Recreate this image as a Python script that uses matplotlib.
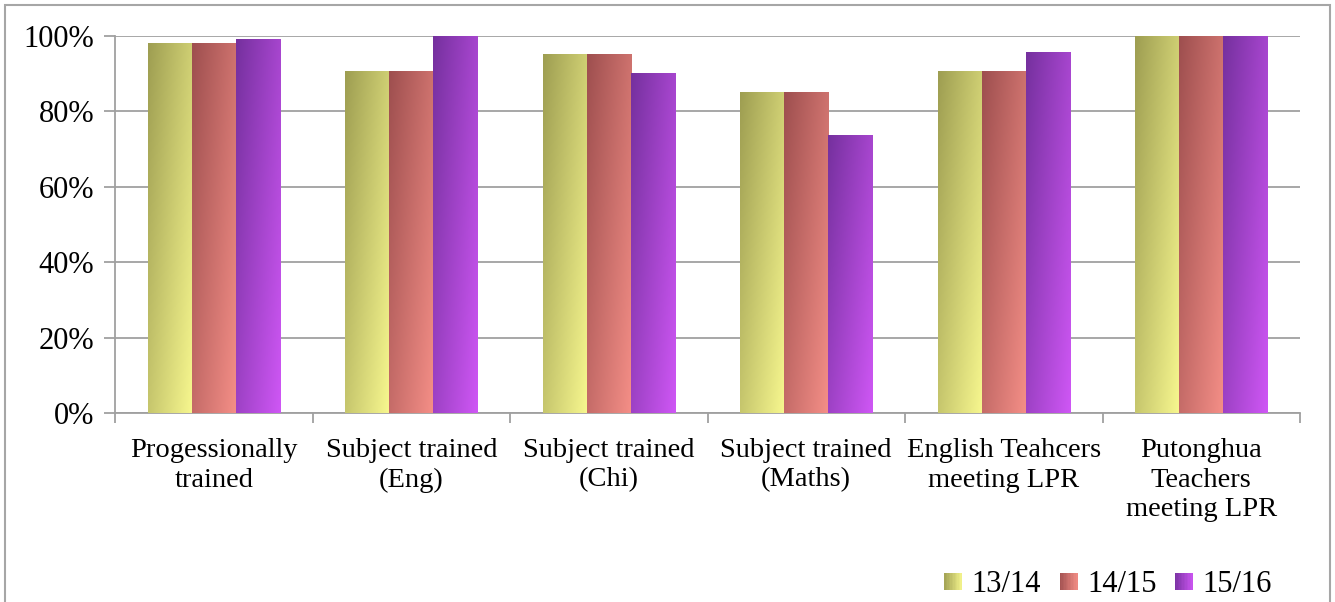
import numpy as np
import matplotlib
matplotlib.use("Agg")
import matplotlib.pyplot as plt
from matplotlib.patches import Rectangle
from matplotlib.legend_handler import HandlerBase
from matplotlib.colors import LinearSegmentedColormap

categories = ["Progessionally\ntrained", "Subject trained\n(Eng)", "Subject trained\n(Chi)",
              "Subject trained\n(Maths)", "English Teahcers\nmeeting LPR",
              "Putonghua\nTeachers\nmeeting LPR"]
series_names = ["13/14", "14/15", "15/16"]
v1314 = [98, 90.5, 95, 85, 90.5, 100]
v1415 = [98, 90.5, 95, 85, 90.5, 100]
v1516 = [99, 100, 90, 73.5, 95.5, 100]
yticks = [0, 20, 40, 60, 80, 100]
ytick_labels = ["0%", "20%", "40%", "60%", "80%", "100%"]

grads = [((0.62, 0.62, 0.32), (0.97, 0.97, 0.56)),
         ((0.62, 0.31, 0.31), (0.96, 0.56, 0.53)),
         ((0.46, 0.19, 0.62), (0.81, 0.34, 0.96))]
cmaps = [LinearSegmentedColormap.from_list("g%d" % i, g) for i, g in enumerate(grads)]

plt.rcParams['font.family'] = ['Liberation Serif', 'DejaVu Serif']
fig = plt.figure(figsize=(13.35, 6.02), dpi=100)
ax = fig.add_axes([115/1335, 1-413/602, (1300-115)/1335, (413-36)/602])

# figure border
fig.patches.append(Rectangle((5/1335, -0.05), (1330-5)/1335, 1-5/602+0.05,
                             transform=fig.transFigure, fill=False,
                             edgecolor='#a6a6a6', linewidth=1.5, zorder=0))

n = len(categories)
x = np.arange(n)
bw = 0.223
yy, xx = np.mgrid[0:1:60j, 0:1:60j]
grad = 0.55 * xx + 0.45 * yy  # top-left dark, bottom-right light (row 0 = top)

for si, vals in enumerate([v1314, v1415, v1516]):
    offs = (si - 1) * bw
    bars = ax.bar(x + offs, vals, width=bw, color='none', edgecolor='none', zorder=3)
    for b in bars:
        x0, y0, w, h = b.get_x(), b.get_y(), b.get_width(), b.get_height()
        ax.imshow(grad, cmap=cmaps[si], vmin=0, vmax=1, aspect='auto',
                  extent=[x0, x0 + w, y0, y0 + h], origin='upper',
                  interpolation='bilinear', zorder=3)

ax.set_xlim(-0.5, n - 0.5)
ax.set_ylim(0, 100)
ax.set_yticks(yticks)
ax.set_yticklabels(ytick_labels, fontsize=22)
ax.set_xticks(x)
ax.set_xticklabels(categories, fontsize=20.5, linespacing=1.24)
ax.set_xticks(np.arange(n + 1) - 0.5, minor=True)
ax.tick_params(axis='x', which='major', length=0, pad=18)
ax.tick_params(axis='x', which='minor', length=7, color='#a0a0a0', width=1.3)
ax.tick_params(axis='y', length=8, color='#a0a0a0', width=1.3, pad=7)
ax.yaxis.grid(True, color='#a0a0a0', linewidth=1.3, zorder=1)
ax.set_axisbelow(True)
for s in ['top', 'right']:
    ax.spines[s].set_visible(False)
for s in ['left', 'bottom']:
    ax.spines[s].set_color('#a0a0a0')
    ax.spines[s].set_linewidth(1.3)


class GradHandler(HandlerBase):
    def __init__(self, cmap):
        super().__init__()
        self.cmap = cmap

    def create_artists(self, legend, orig_handle, xdescent, ydescent, width, height, fontsize, trans):
        arts = []
        side = height
        x0 = -xdescent + width - side
        y0 = -ydescent
        N = 12
        for i in range(N):
            c = self.cmap((i + 0.5) / N * 0.9 + 0.05)
            r = Rectangle((x0 + side * i / N, y0), side / N + 0.3, side,
                          facecolor=c, edgecolor='none', transform=trans)
            arts.append(r)
        return arts


handles = [Rectangle((0, 0), 1, 1) for _ in series_names]
leg = fig.legend(handles, series_names, loc='center right',
                 bbox_to_anchor=(1293/1335, 1-585/602), ncol=3, frameon=False,
                 fontsize=22, handlelength=0.5, handleheight=0.5, handletextpad=0.32,
                 columnspacing=0.68, borderpad=0.2,
                 handler_map={h: GradHandler(cm) for h, cm in zip(handles, cmaps)})

fig.savefig("out.png", dpi=100)
